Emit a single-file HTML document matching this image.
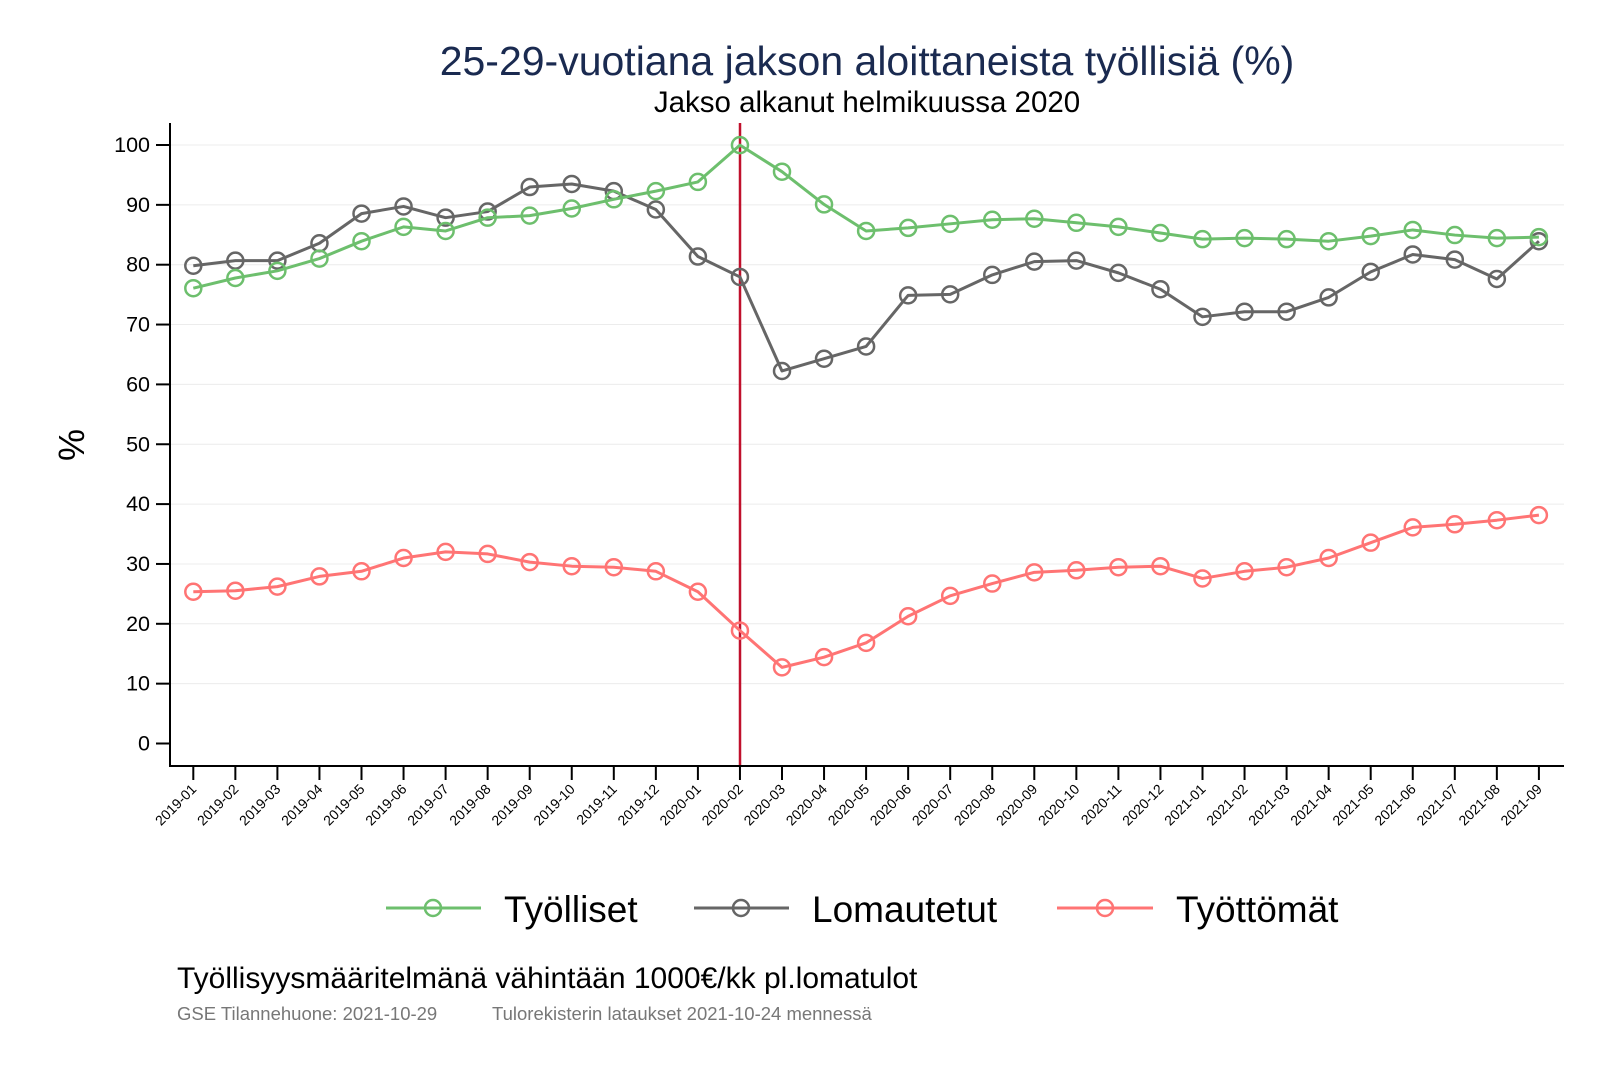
<!DOCTYPE html>
<html><head><meta charset="utf-8"><style>
body{margin:0;background:#fff}
svg text{font-family:"Liberation Sans",Arial,sans-serif}
</style></head><body>
<svg id="s" width="1600" height="1067" xmlns="http://www.w3.org/2000/svg">
<rect width="1600" height="1067" fill="#fff"/>
<text x="867" y="75" font-size="41" text-anchor="middle" fill="#1a2a50">25-29-vuotiana jakson aloittaneista työllisiä (%)</text>
<text x="867" y="112" font-size="29.5" text-anchor="middle" fill="#000">Jakso alkanut helmikuussa 2020</text>
<text transform="translate(84,445) rotate(-90)" font-size="36" text-anchor="middle" fill="#000">%</text>
<g id="grid"></g>
<line x1="740" y1="123" x2="740" y2="766" stroke="#c0102c" stroke-width="2.5"/>
<g id="series"></g>
<line x1="170" y1="123" x2="170" y2="767" stroke="#000" stroke-width="2"/>
<line x1="169" y1="766" x2="1564" y2="766" stroke="#000" stroke-width="2"/>
<g id="ax"></g>
<g font-size="37" fill="#000">
<line x1="386" y1="908" x2="481" y2="908" stroke="#6dbf6d" stroke-width="3"/><circle cx="433" cy="908" r="8" fill="none" stroke="#6dbf6d" stroke-width="2.5"/>
<text x="504" y="922">Työlliset</text>
<line x1="694" y1="908" x2="789" y2="908" stroke="#666" stroke-width="3"/><circle cx="741" cy="908" r="8" fill="none" stroke="#666" stroke-width="2.5"/>
<text x="812" y="922">Lomautetut</text>
<line x1="1057" y1="908" x2="1153" y2="908" stroke="#ff7474" stroke-width="3"/><circle cx="1105" cy="908" r="8" fill="none" stroke="#ff7474" stroke-width="2.5"/>
<text x="1176" y="922">Työttömät</text>
</g>
<text x="177" y="988" font-size="30" fill="#000">Työllisyysmääritelmänä vähintään 1000€/kk pl.lomatulot</text>
<text x="177" y="1020" font-size="18.5" fill="#777">GSE Tilannehuone: 2021-10-29</text>
<text x="492" y="1020" font-size="18.5" fill="#777">Tulorekisterin lataukset 2021-10-24 mennessä</text>
</svg>
<script>
const NS="http://www.w3.org/2000/svg";
function el(p,t,a,txt){const e=document.createElementNS(NS,t);for(const k in a)e.setAttribute(k,a[k]);if(txt)e.textContent=txt;p.appendChild(e);return e;}
const s=k=>document.getElementById(k);
const X=i=>193.3+42.05*i, Y=p=>p*1.022;
const grid=s("grid"),ax=s("ax");
for(let v=0;v<=100;v+=10){const y=743.5-5.985*v;
 if(v>0)el(grid,"line",{x1:171,y1:y,x2:1564,y2:y,stroke:"#ececec","stroke-width":1});
 el(ax,"line",{x1:156,y1:y,x2:170,y2:y,stroke:"#000","stroke-width":2});
 el(ax,"text",{x:150,y:y+7,"font-size":21.5,"text-anchor":"end",fill:"#000"},String(v));}
const labs=[];for(let y=2019;y<=2021;y++)for(let m=1;m<=12;m++){if(y==2021&&m>9)break;labs.push(y+"-"+String(m).padStart(2,"0"));}
labs.forEach((l,i)=>{const x=X(i);
 el(ax,"line",{x1:x,y1:766,x2:x,y2:780,stroke:"#000","stroke-width":2});
 el(ax,"text",{transform:`translate(${x+4},${790}) rotate(-45)`,"font-size":14,"text-anchor":"end",fill:"#000"},l);});
const G=[282,272,265,253,236,222,226,213,211,204,195,187,178,142,168,200,226,223,219,215,214,218,222,228,234,233,234,236,231,225,230,233,232];
const K=[260,255,255,238,209,202,213,207,183,180,187,205,251,271,363,351,339,289,288,269,256,255,267,283,310,305,305,291,266,249,254,273,236];
const R=[579,578,574,564,559,546,540,542,550,554,555,559,579,617,653,643,629,603,583,571,560,558,555,554,566,559,555,546,531,516,513,509,504];
const ser=s("series");
[[K,"#666"],[R,"#ff7474"],[G,"#6dbf6d"]].forEach(([d,c])=>{
 el(ser,"polyline",{points:d.map((p,i)=>X(i)+","+Y(p)).join(" "),fill:"none",stroke:c,"stroke-width":3,"stroke-linejoin":"round"});
 d.forEach((p,i)=>el(ser,"circle",{cx:X(i),cy:Y(p),r:8,fill:"none",stroke:c,"stroke-width":2.5}));});
</script>
</body></html>
